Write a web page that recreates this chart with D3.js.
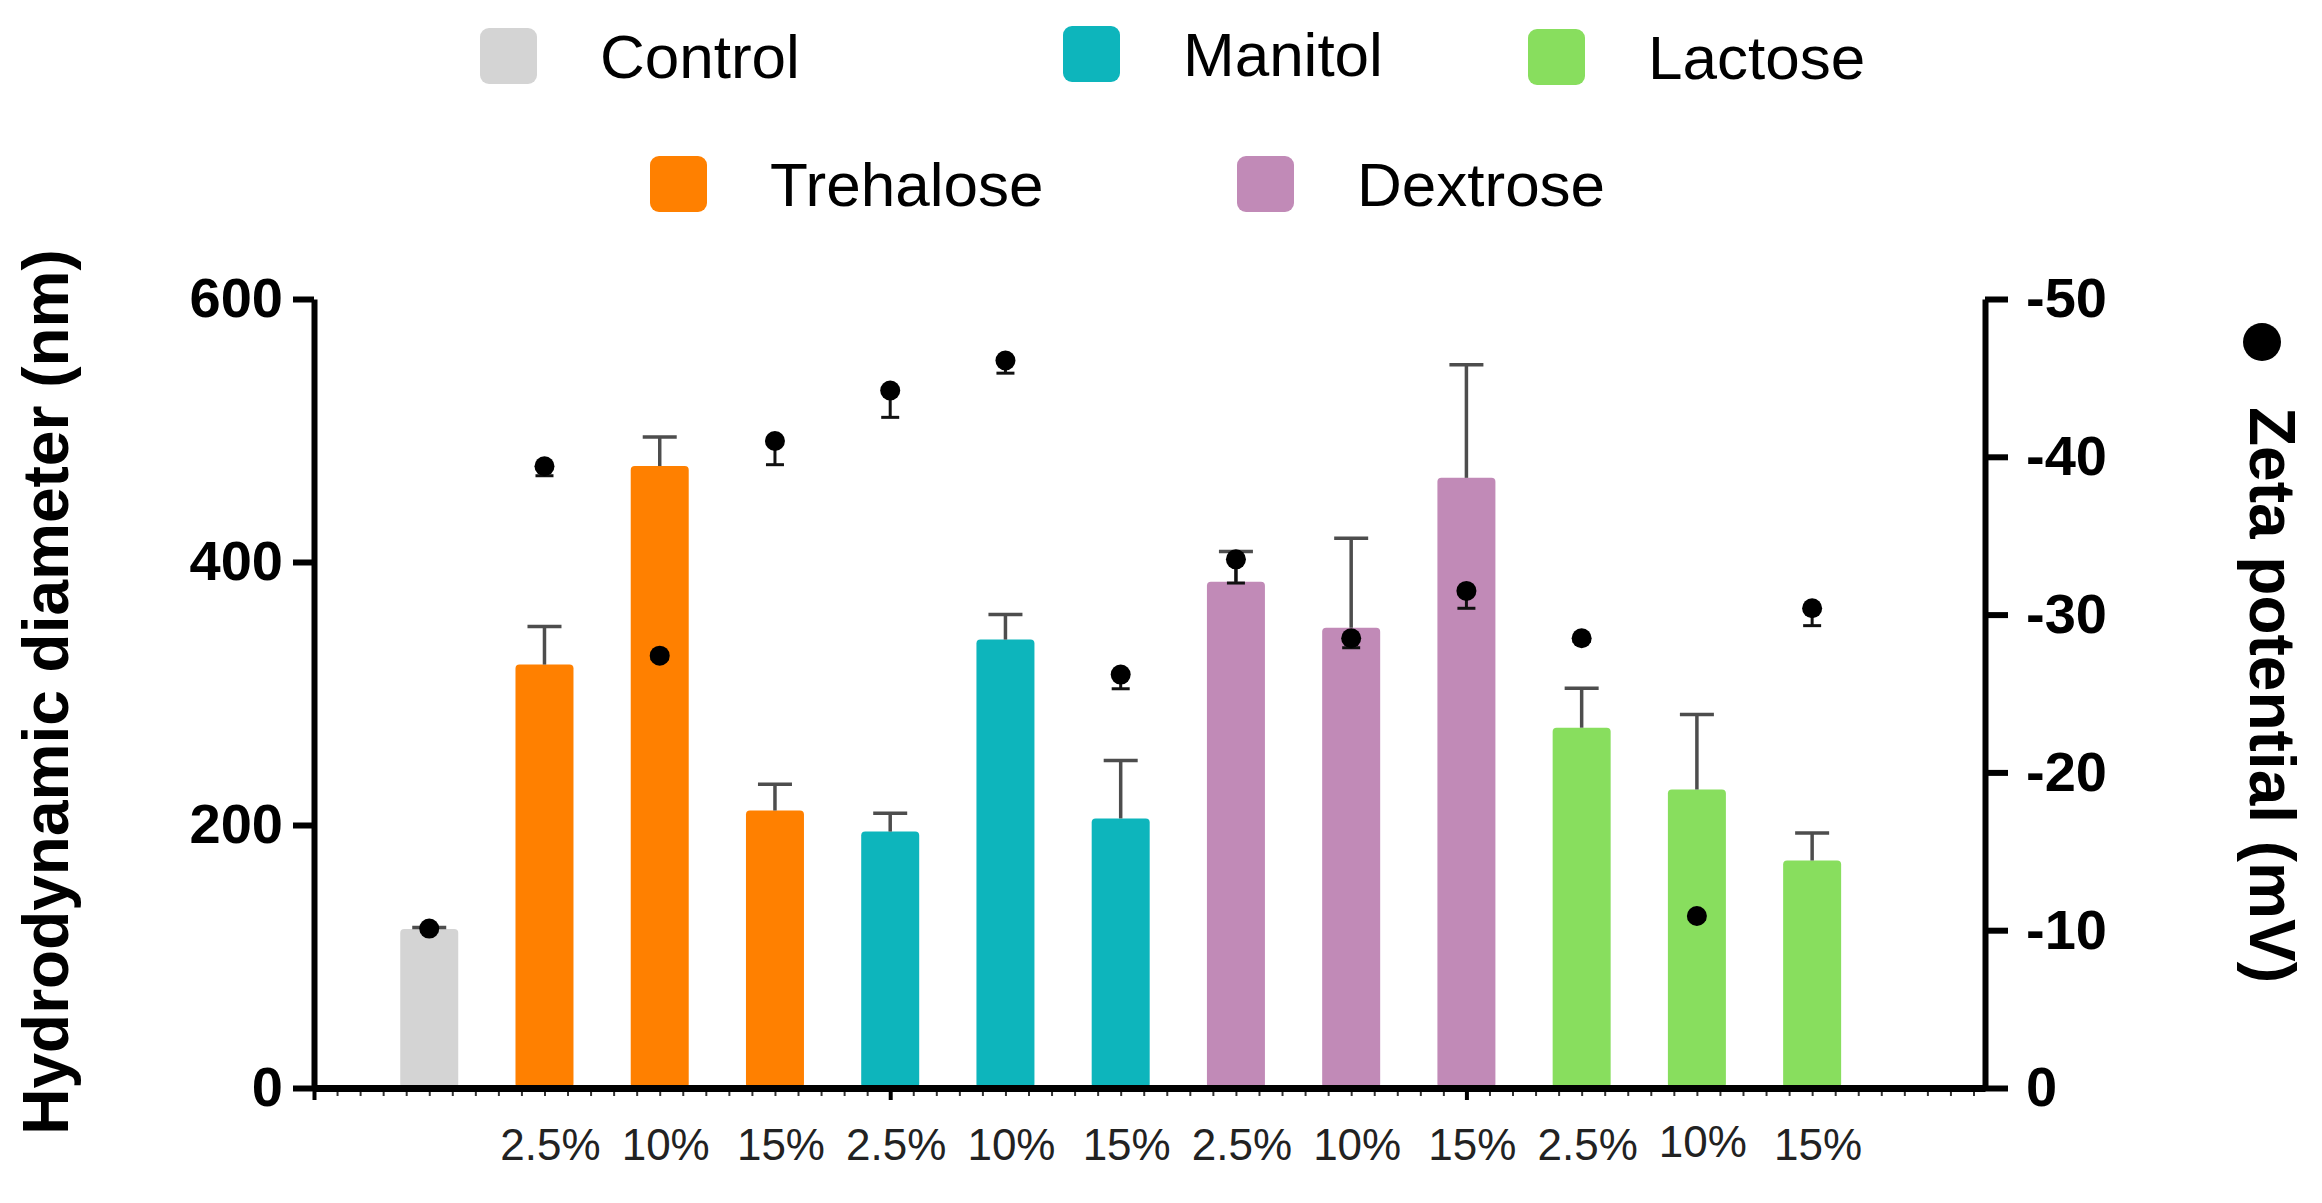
<!DOCTYPE html>
<html>
<head>
<meta charset="utf-8">
<script src="https://cdn.jsdelivr.net/npm/d3@7"></script>
<style>
  body { margin: 0; background: #fff; }
  svg { display: block; font-family: "Liberation Sans", Arial, sans-serif; }
</style>
</head>
<body>
<svg width="2322" height="1203"></svg>
<script>
// data
var groups = ["Control", "Trehalose", "Trehalose", "Trehalose", "Manitol", "Manitol", "Manitol",
              "Dextrose", "Dextrose", "Dextrose", "Lactose", "Lactose", "Lactose"];
var concLabels = ["", "2.5%", "10%", "15%", "2.5%", "10%", "15%", "2.5%", "10%", "15%", "2.5%", "10%", "15%"];
var diameter = [121, 322, 473, 211, 195, 341, 205, 385, 350, 464, 274, 227, 173];
var diameterSD = [1, 29, 22, 20, 14, 19, 44, 23, 68, 86, 30, 57, 21];
var zeta = [-10.1, -39.4, -27.4, -41.0, -44.2, -46.1, -26.2, -33.5, -28.5, -31.5, -28.5, -10.9, -30.4];
var zetaSD = [0.2, 0.6, 0.2, 1.5, 1.7, 0.8, 0.9, 1.5, 0.6, 1.1, 0.2, 0.2, 1.1];
var leftTicks = [0, 200, 400, 600];
var rightTicks = [0, -10, -20, -30, -40, -50];

var colors = {
  Control: "#d4d4d4",
  Trehalose: "#ff8000",
  Manitol: "#0db5bc",
  Dextrose: "#c18ab7",
  Lactose: "#88de5e"
};

var svg = d3.select("svg");

var x = d3.scaleLinear().domain([0, 14.5]).range([314, 1985]);
var yL = d3.scaleLinear().domain([0, 600]).range([1088, 299]);
var yR = d3.scaleLinear().domain([0, -50]).range([1088, 299]);
var barW = 58;

var rows = groups.map(function(g, i) {
  return {g: g, pos: i + 1, d: diameter[i], dsd: diameterSD[i], z: zeta[i], zsd: zetaSD[i], lab: concLabels[i]};
});

// bars
svg.append("g").selectAll("rect")
  .data(rows)
  .enter().append("rect")
    .attr("x", function(d) { return x(d.pos) - barW / 2; })
    .attr("y", function(d) { return yL(d.d); })
    .attr("width", barW)
    .attr("height", function(d) { return yL(0) - yL(d.d); })
    .attr("rx", 4)
    .attr("fill", function(d) { return colors[d.g]; });

// bar error bars (mean + SD)
var be = svg.append("g").attr("stroke", "#4d4d4d").attr("stroke-width", 3.5);
rows.forEach(function(d) {
  var cx = x(d.pos);
  be.append("line").attr("x1", cx).attr("x2", cx).attr("y1", yL(d.d)).attr("y2", yL(d.d + d.dsd));
  be.append("line").attr("x1", cx - 17).attr("x2", cx + 17).attr("y1", yL(d.d + d.dsd)).attr("y2", yL(d.d + d.dsd));
});

// zeta error bars
var ze = svg.append("g").attr("stroke", "#111").attr("stroke-width", 3);
rows.forEach(function(d) {
  var cx = x(d.pos);
  ze.append("line").attr("x1", cx).attr("x2", cx).attr("y1", yR(d.z)).attr("y2", yR(d.z + d.zsd));
  ze.append("line").attr("x1", cx - 9).attr("x2", cx + 9).attr("y1", yR(d.z + d.zsd)).attr("y2", yR(d.z + d.zsd));
});

// zeta points
svg.append("g").selectAll("circle")
  .data(rows)
  .enter().append("circle")
    .attr("cx", function(d) { return x(d.pos); })
    .attr("cy", function(d) { return yR(d.z); })
    .attr("r", 10)
    .attr("fill", "#000");

// x axis: minor and major ticks
var xMinor = svg.append("g")
    .attr("transform", "translate(0," + yL(0) + ")")
    .call(d3.axisBottom(x).tickValues(d3.range(0.2, 14.5, 0.2)).tickSize(8).tickSizeOuter(0).tickFormat(""));
xMinor.select(".domain").remove();
xMinor.selectAll(".tick line").attr("stroke", "#333").attr("stroke-width", 2);

var xMajor = svg.append("g")
    .attr("transform", "translate(0," + yL(0) + ")")
    .call(d3.axisBottom(x).tickValues([0, 5, 10]).tickSize(12).tickSizeOuter(0).tickFormat(""));
xMajor.select(".domain").attr("stroke", "#000").attr("stroke-width", 7);
xMajor.selectAll(".tick line").attr("stroke", "#000").attr("stroke-width", 4);

svg.append("g").selectAll("text")
  .data(rows)
  .enter().append("text")
    .attr("x", function(d) { return x(d.pos) + 6; })
    .attr("y", function(d, i) { return i === 11 ? 1157 : 1160; })
    .attr("text-anchor", "middle")
    .attr("font-size", 44)
    .attr("fill", "#222")
    .text(function(d) { return d.lab; });

// left axis
var gl = svg.append("g")
    .attr("transform", "translate(" + x(0) + ",0)")
    .call(d3.axisLeft(yL).tickValues(leftTicks).tickSize(21).tickSizeOuter(0).tickPadding(10));
gl.select(".domain").attr("stroke", "#000").attr("stroke-width", 6);
gl.selectAll(".tick line").attr("stroke", "#000").attr("stroke-width", 6);
gl.selectAll(".tick text").attr("font-size", 56).attr("font-weight", "bold").attr("fill", "#000")
  .attr("font-family", "'Liberation Sans', Arial, sans-serif");

// right axis
var gr = svg.append("g")
    .attr("transform", "translate(" + x(14.5) + ",0)")
    .call(d3.axisRight(yR).tickValues(rightTicks).tickSize(23).tickSizeOuter(0).tickPadding(18)
      .tickFormat(function(d) { return String(d); }));
gr.select(".domain").attr("stroke", "#000").attr("stroke-width", 6);
gr.selectAll(".tick line").attr("stroke", "#000").attr("stroke-width", 6);
gr.selectAll(".tick text").attr("font-size", 56).attr("font-weight", "bold").attr("fill", "#000")
  .attr("font-family", "'Liberation Sans', Arial, sans-serif");

// axis titles
svg.append("text")
    .attr("transform", "translate(68,692) rotate(-90)")
    .attr("text-anchor", "middle")
    .attr("font-size", 64)
    .attr("font-weight", "bold")
    .text("Hydrodynamic diameter (nm)");

svg.append("circle").attr("cx", 2262).attr("cy", 342).attr("r", 19).attr("fill", "#000");
svg.append("text")
    .attr("transform", "translate(2250,695) rotate(90)")
    .attr("text-anchor", "middle")
    .attr("font-size", 64)
    .attr("font-weight", "bold")
    .text("Zeta potential (mV)");

// legend
var legendItems = [
  {name: "Control", x: 480, y: 56},
  {name: "Manitol", x: 1063, y: 54},
  {name: "Lactose", x: 1528, y: 57},
  {name: "Trehalose", x: 650, y: 184},
  {name: "Dextrose", x: 1237, y: 184}
];
var lg = svg.append("g").selectAll("g")
  .data(legendItems)
  .enter().append("g")
    .attr("transform", function(d) { return "translate(" + d.x + "," + d.y + ")"; });
lg.append("rect")
    .attr("x", 0).attr("y", -28).attr("width", 57).attr("height", 56).attr("rx", 9)
    .attr("fill", function(d) { return colors[d.name]; });
lg.append("text")
    .attr("x", 120).attr("y", 22)
    .attr("font-size", 62)
    .attr("fill", "#000")
    .text(function(d) { return d.name; });
</script>
</body>
</html>
